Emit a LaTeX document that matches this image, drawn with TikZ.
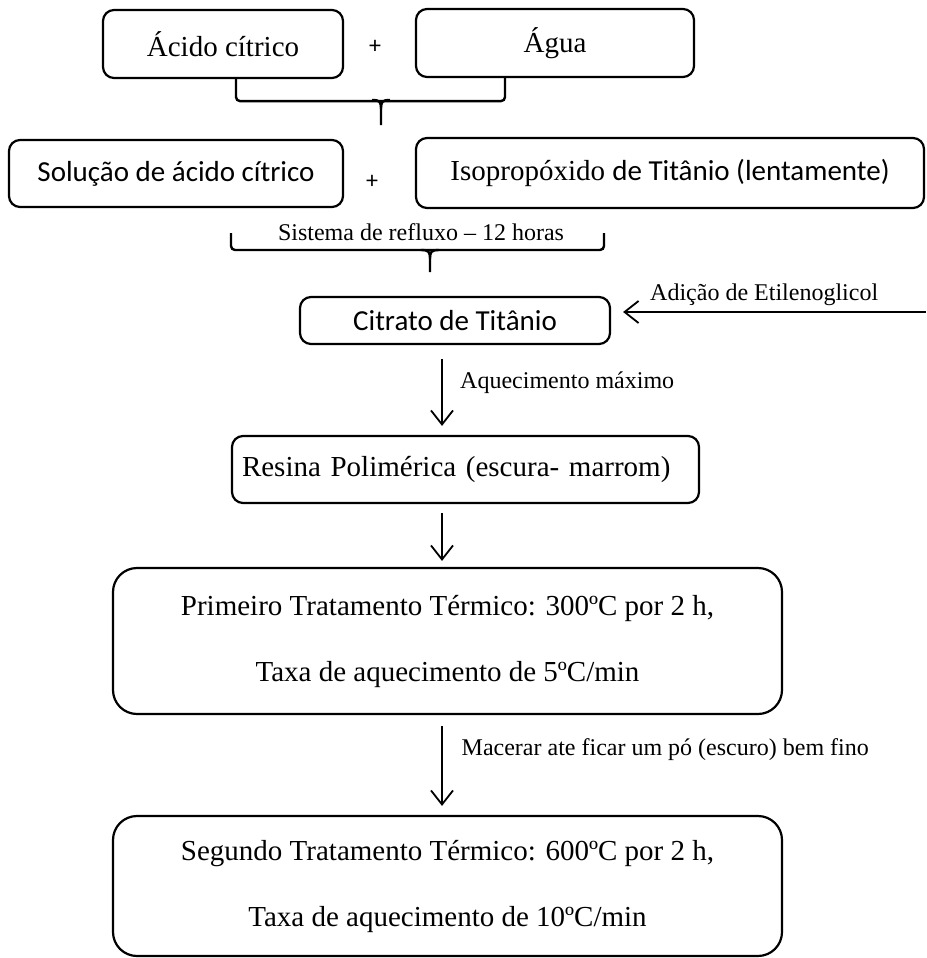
\documentclass[tikz,border=0pt]{standalone}
\usepackage{fontspec}
\setmainfont{Liberation Serif}
\newfontfamily\calibri{Carlito}
\usetikzlibrary{arrows.meta}

\begin{document}
\begin{tikzpicture}[x=1pt,y=-1pt,
  box/.style={draw,line width=2.2pt,rounded corners=11pt,inner sep=0pt,font=\fontsize{29}{34}\selectfont},
  bigbox/.style={box,rounded corners=24pt,align=center,font=\fontsize{29}{66}\selectfont},
  lbl/.style={inner sep=0pt,font=\fontsize{24}{28}\selectfont},
  flow/.style={line width=1.8pt,-{Straight Barb[length=14pt,width=22pt,line width=1.8pt]}},
  brace/.style={line width=2.4pt,rounded corners=4pt}]
  \fill[white] (0,0) rectangle (926,958);
  \useasboundingbox (0,0) rectangle (926,958);

  \node[box,minimum width=240pt,minimum height=68pt] (acido) at (223,44) {Ácido cítrico};
  \node[box,minimum width=278pt,minimum height=68pt] (agua) at (555,43) {Água};
  \node[lbl,font=\calibri\fontsize{24}{28}\selectfont] (mais1) at (375,47) {+};

  \node[box,minimum width=334pt,minimum height=67pt] (solucao) at (176,173.5) {\calibri Solução de ácido cítrico};
  \node[box,minimum width=508pt,minimum height=70pt] (isoprop) at (670,173) {Isopropóxido \calibri de Titânio (lentamente)};
  \node[lbl,font=\calibri\fontsize{24}{28}\selectfont] (mais2) at (372,182) {+};
  \node[lbl] (refluxo) at (421,232) {Sistema de refluxo -- 12 horas};

  \node[box,minimum width=310pt,minimum height=47pt] (citrato) at (455,320.5) {\calibri Citrato de Titânio};
  \node[box,text width=447pt,inner xsep=10pt,align=left,minimum height=67pt] (resina) at (465.5,469.5) {Resina Polimérica (escura- marrom)};
  \node[bigbox,minimum width=669pt,minimum height=146pt] (trat1) at (447.5,641) {Primeiro Tratamento Térmico: 300ºC por 2 h,\\Taxa de aquecimento de 5ºC/min};
  \node[bigbox,minimum width=669pt,minimum height=140pt] (trat2) at (447.5,886) {Segundo Tratamento Térmico: 600ºC por 2 h,\\Taxa de aquecimento de 10ºC/min};

  % chaves
  \draw[brace] ([xshift=13pt]acido.south) -- ++(0,22) -| ([xshift=-50pt]agua.south);
  \coordinate (ch1) at (381,100);
  \draw[line width=2.4pt] ([xshift=-9pt]ch1) .. controls ([xshift=-1pt]ch1) and ([yshift=-2pt]ch1) .. ([yshift=-9pt]ch1) -- ([yshift=-25pt]ch1);
  \draw[line width=2.4pt] ([xshift=9pt]ch1) .. controls ([xshift=1pt]ch1) and ([yshift=-2pt]ch1) .. ([yshift=-9pt]ch1);

  \draw[brace] (231,233) -- (231,250) -- (604,250) -- (604,233);
  \coordinate (ch2) at (430,250);
  \draw[line width=2.4pt] ([xshift=-9pt]ch2) .. controls ([xshift=-1pt]ch2) and ([yshift=-2pt]ch2) .. ([yshift=-9pt]ch2) -- ([yshift=-22pt]ch2);
  \draw[line width=2.4pt] ([xshift=9pt]ch2) .. controls ([xshift=1pt]ch2) and ([yshift=-2pt]ch2) .. ([yshift=-9pt]ch2);

  % setas
  \coordinate (etil) at (926,312);
  \coordinate (eixo) at (442,0);
  \draw[flow,shorten >=12pt] (etil) -- (citrato.east |- etil);
  \node[lbl,anchor=west] (adicao) at (650,295) {Adição de Etilenoglicol};
  \draw[flow,shorten <=14pt,shorten >=9pt] (citrato.south -| eixo) -- (resina.north -| eixo);
  \node[lbl,anchor=west] (aquec) at (460,383) {Aquecimento máximo};
  \draw[flow,shorten <=9pt,shorten >=6pt] (resina.south -| eixo) -- (trat1.north -| eixo);
  \draw[flow,shorten <=11pt,shorten >=9pt] (trat1.south -| eixo) -- (trat2.north -| eixo);
  \node[lbl,anchor=east] (macerar) at (869,750) {Macerar ate ficar um pó (escuro) bem fino};
\end{tikzpicture}
\end{document}
